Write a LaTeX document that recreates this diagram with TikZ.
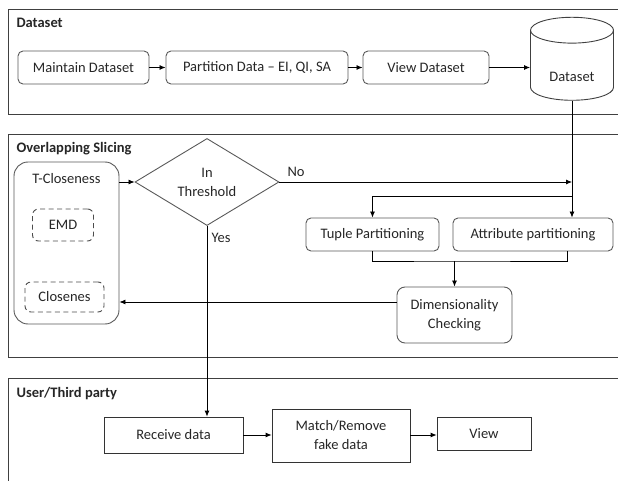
\documentclass[tikz,border=0pt]{standalone}
\usepackage{fontspec}
\setmainfont{Carlito}
\usepackage{tikz}
\usetikzlibrary{positioning,calc,shapes.geometric,arrows.meta}

\begin{document}
\begin{tikzpicture}[
    x=1pt, y=-1pt,
    every node/.style={font=\fontsize{14.5}{19}\selectfont, text=black!85},
    panel/.style={draw=black!75, line width=0.9pt},
    title/.style={anchor=west, font=\fontsize{14.5}{19}\selectfont\bfseries},
    block/.style={
        draw=black!65,
        rounded corners=5pt,
        align=center,
        line width=0.9pt,
        inner sep=2pt
    },
    sqbox/.style={draw=black!80, align=center, line width=0.8pt, inner sep=2pt},
    dashbox/.style={draw=black!70, dashed, dash pattern=on 5pt off 3.5pt,
        rounded corners=6pt, line width=0.9pt, align=center},
    arrow/.style={-{Latex[length=6pt,width=5pt]}, line width=0.8pt}
]
\useasboundingbox (0,0) rectangle (618,481);

% panels
\draw[panel] (618,9.5) -| (8,114) -- (618,114);
\draw[panel] (618,134) -| (8,357) -- (618,357);
\draw[panel] (618,378.5) -| (8,481);

\node[title] (t1) at (13,23) {Dataset};
\node[title] (t2) at (13,149) {Overlapping Slicing};
\node[title] (t3) at (13,394) {User/Third party};

% row 1
\node[block, minimum width=131pt, minimum height=33pt] (maintain) at (83.5,67.5)
    {Maintain Dataset};
\node[block, minimum width=182pt, minimum height=33pt] (partition) at (257,67.5)
    {Partition Data -- EI, QI, SA};
\node[block, minimum width=126pt, minimum height=33pt] (viewds) at (426,67.5)
    {View Dataset};
\node[cylinder, shape border rotate=90, aspect=0.5, draw=black!75, line width=0.9pt,
    minimum width=83pt, minimum height=83pt,
    label={[yshift=-9pt]center:Dataset}] (dataset) at (572,68) {\phantom{Dataset}};

% row 2
\node[block, rounded corners=14pt, minimum width=105pt, minimum height=162pt,
    label={[anchor=north, yshift=-8pt]north:T-Closeness}] (tclose) at (66.5,243) {};
\node[dashbox, minimum width=61pt, minimum height=32pt] (emd) at (63,225) {EMD};
\node[dashbox, minimum width=79pt, minimum height=30pt] (closenes) at (64.5,297) {Closenes};

\node[diamond, draw=black!65, line width=0.9pt, inner sep=0pt, align=center,
    minimum width=144pt, minimum height=80pt] (thresh) at (207,182)
    {In\\Threshold};

\node[block, minimum width=133pt, minimum height=33pt] (tuple) at (372.5,234.5)
    {Tuple Partitioning};
\node[block, minimum width=160pt, minimum height=33pt] (attr) at (533,234.5)
    {Attribute partitioning};
\node[block, rounded corners=8pt, minimum width=115pt, minimum height=56pt] (dim) at (454.5,315)
    {Dimensionality\\Checking};

\coordinate (split) at (572,196);
\coordinate (merge) at (454.5,261);

\node (no) at (296,172) {No};
\node (yes) at (221,238) {Yes};

% row 3
\node[sqbox, minimum width=139pt, minimum height=36pt] (recv) at (173.5,435)
    {Receive data};
\node[sqbox, minimum width=138pt, minimum height=53pt] (match) at (341,435.5)
    {Match/Remove\\fake data};
\node[sqbox, minimum width=94pt, minimum height=33pt] (view) at (484,433.5)
    {View};

% arrows row 1
\draw[arrow] (maintain.east) -- (partition.west);
\draw[arrow] (partition.east) -- (viewds.west);
\draw[arrow] (viewds.east) -- (viewds.east -| dataset.west);

% dataset down into the slicing stage
\draw[arrow] (dataset.south) -- (dataset.south |- attr.north);
\draw[arrow] (split) -| (tuple.north);
\draw[arrow] (thresh.east) -- (thresh.east -| split);

% arrows row 2
\draw[arrow] (tclose.east |- thresh.west) -- (thresh.west);
\draw (tuple.south) |- (merge) -| ([xshift=34pt]attr.south);
\draw[arrow] (merge) -- (dim.north);
\draw[arrow] ([yshift=13pt]dim.west) -- ([yshift=13pt]dim.west -| tclose.east);

% yes : down to the user
\draw[arrow] (thresh.south) -- (thresh.south |- recv.north);

% arrows row 3
\draw[arrow] (recv.east) -- (recv.east -| match.west);
\draw[arrow] (match.east |- recv.east) -- (recv.east -| view.west);
\end{tikzpicture}
\end{document}
